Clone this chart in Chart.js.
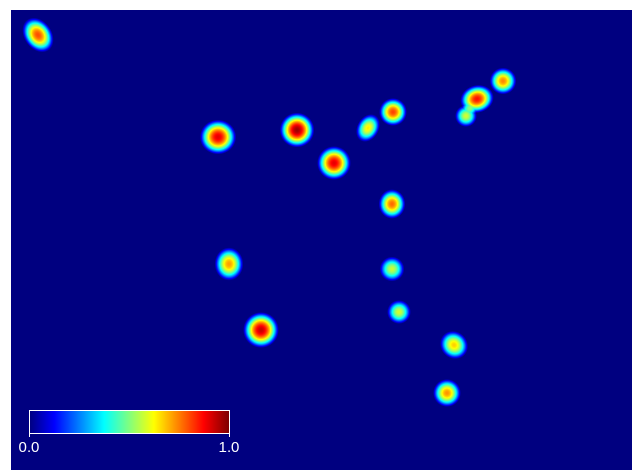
<!DOCTYPE html>
<html>
<head>
<meta charset="utf-8">
<script src="https://cdn.jsdelivr.net/npm/chart.js@4/dist/chart.umd.min.js"></script>
<style>
  html, body { margin: 0; padding: 0; background: #fff; }
  canvas { display: block; }
</style>
</head>
<body>
<canvas id="heatChart" width="637" height="470"></canvas>
<script>
// hot spots (x, y in map units, y grows downward), peak weight,
// spread radius, stretch of the spread and the tilt of that stretch (degrees)
const spotX       = [27, 207, 286, 323, 357, 382, 466, 455, 492, 381, 218, 381, 388, 250, 443, 436];
const spotY       = [25, 127, 120, 153, 118, 102, 89, 106, 71, 194, 254, 259, 302, 320, 335, 383];
const spotWeight  = [0.8, 0.9, 0.97, 0.9, 0.64, 0.81, 0.86, 0.58, 0.74, 0.77, 0.72, 0.57, 0.58, 0.93, 0.67, 0.73];
const spotSpread  = [14, 17.5, 17.5, 17, 11, 14, 14, 11, 13.5, 13.5, 14.5, 12.5, 12, 18, 13.5, 14];
const spotStretch = [1.35, 1.05, 1, 1, 1.35, 1, 1.22, 1, 1, 1.1, 1.15, 1, 1, 1, 1.1, 1];
const spotTilt    = [55, 0, 0, 0, -60, 0, -15, 0, 0, 90, 90, 0, 0, 0, 45, 0];

const mapWidth = 621;
const mapHeight = 460;
const scaleTicks = ['0.0', '1.0'];

function clamp01(v) {
    return v < 0 ? 0 : (v > 1 ? 1 : v);
}

// classic jet colormap
function jet(t) {
    var r = clamp01(1.5 - Math.abs(4 * t - 3));
    var g = clamp01(1.5 - Math.abs(4 * t - 2));
    var b = clamp01(1.5 - Math.abs(4 * t - 1));
    return [Math.round(r * 255), Math.round(g * 255), Math.round(b * 255)];
}

// q2 is the squared, normalised distance from the spot centre
function kernel(q2) {
    if (q2 >= 1) return 0;
    return Math.pow(1 - q2, 1.2);
}

const heatLayer = {
    id: 'heatLayer',
    beforeDatasetsDraw(chart) {
        var ctx = chart.ctx;
        var area = chart.chartArea;
        var xs = chart.scales.x;
        var ys = chart.scales.y;
        var w = Math.round(area.right - area.left);
        var h = Math.round(area.bottom - area.top);
        var img = ctx.createImageData(w, h);

        var colX = [];
        for (let i = 0; i < w; i++) colX.push(xs.getValueForPixel(area.left + i + 0.5));
        var rowY = [];
        for (let j = 0; j < h; j++) rowY.push(ys.getValueForPixel(area.top + j + 0.5));

        var pts = chart.data.datasets[0].data;
        pts.forEach(p => {
            var a = p.tilt * Math.PI / 180;
            p.cos = Math.cos(a);
            p.sin = Math.sin(a);
            p.reach = p.spread * p.stretch;
        });

        for (let j = 0; j < h; j++) {
            for (let i = 0; i < w; i++) {
                var v = 0;
                for (let k = 0; k < pts.length; k++) {
                    var p = pts[k];
                    var dx = colX[i] - p.x;
                    var dy = rowY[j] - p.y;
                    if (dx > p.reach || dx < -p.reach || dy > p.reach || dy < -p.reach) continue;
                    var u = (dx * p.cos + dy * p.sin) / (p.spread * p.stretch);
                    var t = (-dx * p.sin + dy * p.cos) / p.spread;
                    v += p.weight * kernel(u * u + t * t);
                }
                var c = jet(clamp01(v));
                var idx = (j * w + i) * 4;
                img.data[idx] = c[0];
                img.data[idx + 1] = c[1];
                img.data[idx + 2] = c[2];
                img.data[idx + 3] = 255;
            }
        }
        ctx.putImageData(img, area.left, area.top);
    },
    afterDraw(chart) {
        var ctx = chart.ctx;
        var area = chart.chartArea;
        var left = area.left + 18;
        var top = area.bottom - 60;
        var barW = 200;
        var barH = 23;

        ctx.save();
        for (let i = 0; i < barW; i++) {
            var c = jet(i / (barW - 1));
            ctx.fillStyle = 'rgb(' + c[0] + ',' + c[1] + ',' + c[2] + ')';
            ctx.fillRect(left + i, top, 1, barH);
        }
        ctx.strokeStyle = '#ffffff';
        ctx.lineWidth = 1;
        ctx.strokeRect(left + 0.5, top + 0.5, barW, barH);
        ctx.beginPath();
        ctx.moveTo(left + 0.5, top + barH);
        ctx.lineTo(left + 0.5, top + barH + 4);
        ctx.moveTo(left + barW + 0.5, top + barH);
        ctx.lineTo(left + barW + 0.5, top + barH + 4);
        ctx.stroke();

        ctx.fillStyle = '#ffffff';
        ctx.font = '15px "Liberation Sans", Arial, sans-serif';
        ctx.textAlign = 'center';
        ctx.textBaseline = 'alphabetic';
        ctx.fillText(scaleTicks[0], left, top + barH + 19);
        ctx.fillText(scaleTicks[1], left + barW, top + barH + 19);
        ctx.restore();
    }
};

var points = [];
for (let i = 0; i < spotX.length; i++) {
    points.push({
        x: spotX[i], y: spotY[i], weight: spotWeight[i],
        spread: spotSpread[i], stretch: spotStretch[i], tilt: spotTilt[i]
    });
}

new Chart(document.getElementById('heatChart'), {
    type: 'scatter',
    data: {
        datasets: [{
            data: points,
            pointRadius: 0,
            pointHoverRadius: 0
        }]
    },
    options: {
        responsive: false,
        animation: false,
        events: [],
        layout: { padding: { left: 11, right: 5, top: 10, bottom: 0 } },
        plugins: { legend: { display: false }, tooltip: { enabled: false } },
        scales: {
            x: { type: 'linear', min: 0, max: mapWidth, display: false },
            y: { type: 'linear', min: 0, max: mapHeight, reverse: true, display: false }
        }
    },
    plugins: [heatLayer]
});
</script>
</body>
</html>
